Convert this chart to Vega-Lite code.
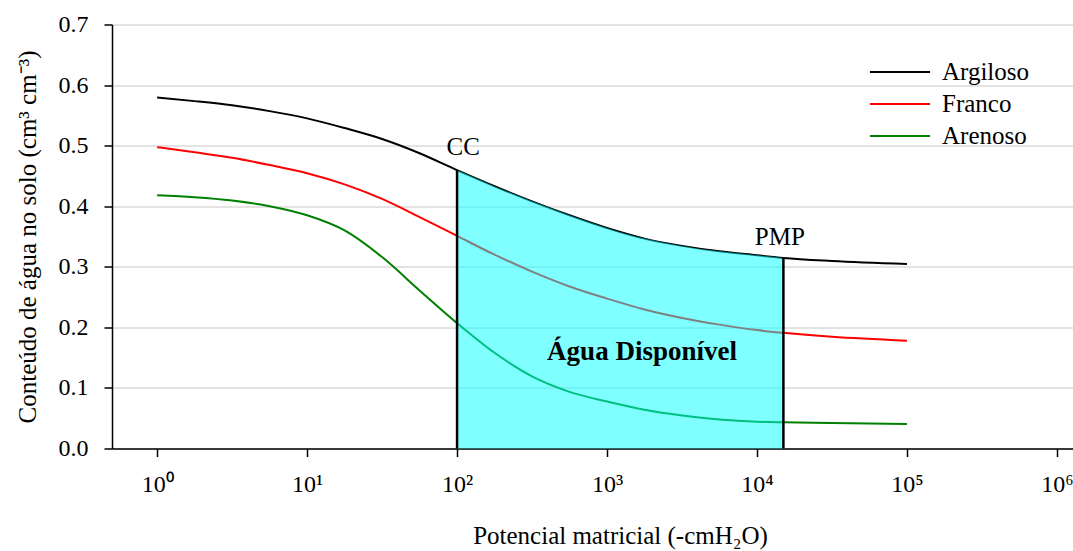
{
  "$schema": "https://vega.github.io/schema/vega-lite/v6.json",
  "width": 961,
  "height": 424,
  "autosize": {"type": "none"},
  "padding": {"left": 112, "top": 24.5, "right": 0, "bottom": 102.5},
  "background": "white",
  "config": {
    "view": {"stroke": null},
    "font": "Liberation Serif",
    "axis": {
      "domainColor": "#000000",
      "domainWidth": 1.5,
      "tickColor": "#000000",
      "tickWidth": 1.5,
      "tickSize": 8,
      "labelFont": "Liberation Serif",
      "labelFontSize": 24,
      "labelColor": "#000000",
      "titleFont": "Liberation Serif",
      "titleFontSize": 25,
      "titleFontWeight": "normal",
      "titleColor": "#000000",
      "gridColor": "#c8c8c8",
      "gridWidth": 1
    },
    "legend": {
      "labelFont": "Liberation Serif",
      "labelFontSize": 25,
      "labelColor": "#000000"
    }
  },
  "datasets": {
    "curves": [
      {"series": "Argiloso", "x": 1, "y": 0.5795},
      {"series": "Argiloso", "x": 1.778, "y": 0.5735},
      {"series": "Argiloso", "x": 3.162, "y": 0.5665},
      {"series": "Argiloso", "x": 5.623, "y": 0.557},
      {"series": "Argiloso", "x": 10, "y": 0.545},
      {"series": "Argiloso", "x": 17.78, "y": 0.529},
      {"series": "Argiloso", "x": 31.62, "y": 0.511},
      {"series": "Argiloso", "x": 56.23, "y": 0.4875},
      {"series": "Argiloso", "x": 100, "y": 0.4596},
      {"series": "Argiloso", "x": 177.8, "y": 0.433},
      {"series": "Argiloso", "x": 316.2, "y": 0.408},
      {"series": "Argiloso", "x": 562.3, "y": 0.385},
      {"series": "Argiloso", "x": 1000, "y": 0.364},
      {"series": "Argiloso", "x": 1778, "y": 0.3465},
      {"series": "Argiloso", "x": 3162, "y": 0.3345},
      {"series": "Argiloso", "x": 5623, "y": 0.3255},
      {"series": "Argiloso", "x": 10000, "y": 0.319},
      {"series": "Argiloso", "x": 15000, "y": 0.3145},
      {"series": "Argiloso", "x": 31623, "y": 0.3095},
      {"series": "Argiloso", "x": 100000, "y": 0.3045},
      {"series": "Franco", "x": 1, "y": 0.4975},
      {"series": "Franco", "x": 1.778, "y": 0.489},
      {"series": "Franco", "x": 3.162, "y": 0.48},
      {"series": "Franco", "x": 5.623, "y": 0.468},
      {"series": "Franco", "x": 10, "y": 0.4545},
      {"series": "Franco", "x": 17.78, "y": 0.436},
      {"series": "Franco", "x": 31.62, "y": 0.412},
      {"series": "Franco", "x": 56.23, "y": 0.382},
      {"series": "Franco", "x": 100, "y": 0.351},
      {"series": "Franco", "x": 177.8, "y": 0.32},
      {"series": "Franco", "x": 316.2, "y": 0.292},
      {"series": "Franco", "x": 562.3, "y": 0.2675},
      {"series": "Franco", "x": 1000, "y": 0.2475},
      {"series": "Franco", "x": 1778, "y": 0.2295},
      {"series": "Franco", "x": 3162, "y": 0.2155},
      {"series": "Franco", "x": 5623, "y": 0.2045},
      {"series": "Franco", "x": 10000, "y": 0.1955},
      {"series": "Franco", "x": 15000, "y": 0.191},
      {"series": "Franco", "x": 31623, "y": 0.1845},
      {"series": "Franco", "x": 100000, "y": 0.178},
      {"series": "Arenoso", "x": 1, "y": 0.418},
      {"series": "Arenoso", "x": 1.778, "y": 0.415},
      {"series": "Arenoso", "x": 3.162, "y": 0.4095},
      {"series": "Arenoso", "x": 5.623, "y": 0.4},
      {"series": "Arenoso", "x": 10, "y": 0.385},
      {"series": "Arenoso", "x": 17.78, "y": 0.36},
      {"series": "Arenoso", "x": 31.62, "y": 0.316},
      {"series": "Arenoso", "x": 56.23, "y": 0.261},
      {"series": "Arenoso", "x": 100, "y": 0.207},
      {"series": "Arenoso", "x": 177.8, "y": 0.158},
      {"series": "Arenoso", "x": 316.2, "y": 0.119},
      {"series": "Arenoso", "x": 562.3, "y": 0.0935},
      {"series": "Arenoso", "x": 1000, "y": 0.0775},
      {"series": "Arenoso", "x": 1778, "y": 0.064},
      {"series": "Arenoso", "x": 3162, "y": 0.0545},
      {"series": "Arenoso", "x": 5623, "y": 0.048},
      {"series": "Arenoso", "x": 10000, "y": 0.0443},
      {"series": "Arenoso", "x": 15000, "y": 0.0432},
      {"series": "Arenoso", "x": 31623, "y": 0.042},
      {"series": "Arenoso", "x": 100000, "y": 0.0404}
    ],
    "limits": [
      {"x": 100, "y": 0, "top": 0.4596},
      {"x": 15000, "y": 0, "top": 0.3145}
    ],
    "annot": [
      {"label": "CC", "x": 110, "y": 0.497},
      {"label": "PMP", "x": 14200, "y": 0.35}
    ],
    "areaLabel": [
      {"label": "Água Disponível", "x": 1711, "y": 0.16}
    ]
  },
  "encoding": {
    "x": {
      "field": "x",
      "type": "quantitative",
      "scale": {"type": "log", "domain": [0.5, 1280000], "nice": false},
      "axis": {
        "title": "Potencial matricial (-cmH₂O)",
        "values": [1, 10, 100, 1000, 10000, 100000, 1000000],
        "labelExpr": "'10' + ['⁰','¹','²','³','⁴','⁵','⁶'][round(log(datum.value)/LN10)]",
        "grid": false,
        "labelOverlap": false,
        "labelFlush": false,
        "labelPadding": 16,
        "titlePadding": 27,
        "titleX": 508,
        "titleAnchor": "middle",
        "labelFont": "Liberation Serif",
        "titleFont": "Liberation Serif"
      }
    },
    "y": {
      "field": "y",
      "type": "quantitative",
      "scale": {"domain": [0, 0.7], "nice": false, "zero": true},
      "axis": {
        "title": "Conteúdo de água no solo (cm³ cm⁻³)",
        "values": [0, 0.1, 0.2, 0.3, 0.4, 0.5, 0.6, 0.7],
        "format": ".1f",
        "grid": true,
        "labelPadding": 16,
        "titlePadding": 18,
        "labelFont": "Liberation Serif",
        "titleFont": "Liberation Serif"
      }
    }
  },
  "layer": [
    {
      "data": {"name": "curves"},
      "mark": {"type": "line", "strokeWidth": 2, "interpolate": "monotone"},
      "encoding": {
        "color": {
          "field": "series",
          "type": "nominal",
          "scale": {"domain": ["Argiloso", "Franco", "Arenoso"], "range": ["#000000", "#ff0000", "#008000"]},
          "legend": {
            "title": null,
            "orient": "none",
            "legendX": 757,
            "legendY": 32.5,
            "symbolType": "stroke",
            "symbolSize": 3600,
            "symbolStrokeWidth": 2,
            "clipHeight": 30,
            "labelOffset": 11,
            "rowPadding": 2,
            "labelFont": "Liberation Serif",
            "labelFontSize": 25
          }
        }
      }
    },
    {
      "data": {"name": "curves"},
      "transform": [{"filter": "datum.series == 'Argiloso' && datum.x >= 100 && datum.x <= 15000"}],
      "mark": {"type": "area", "color": "#00ffff", "opacity": 0.5, "interpolate": "monotone"},
      "encoding": {"y": {"field": "y", "type": "quantitative", "stack": null}}
    },
    {
      "data": {"name": "limits"},
      "mark": {"type": "rule", "color": "#000000", "strokeWidth": 2.5},
      "encoding": {"y2": {"field": "top"}}
    },
    {
      "data": {"name": "annot"},
      "mark": {"type": "text", "fontSize": 25, "font": "Liberation Serif", "align": "center", "baseline": "middle", "color": "#000000"},
      "encoding": {"text": {"field": "label"}}
    },
    {
      "data": {"name": "areaLabel"},
      "mark": {"type": "text", "fontSize": 27, "fontWeight": "bold", "font": "Liberation Serif", "align": "center", "baseline": "middle", "color": "#000000"},
      "encoding": {"text": {"field": "label"}}
    }
  ]
}
